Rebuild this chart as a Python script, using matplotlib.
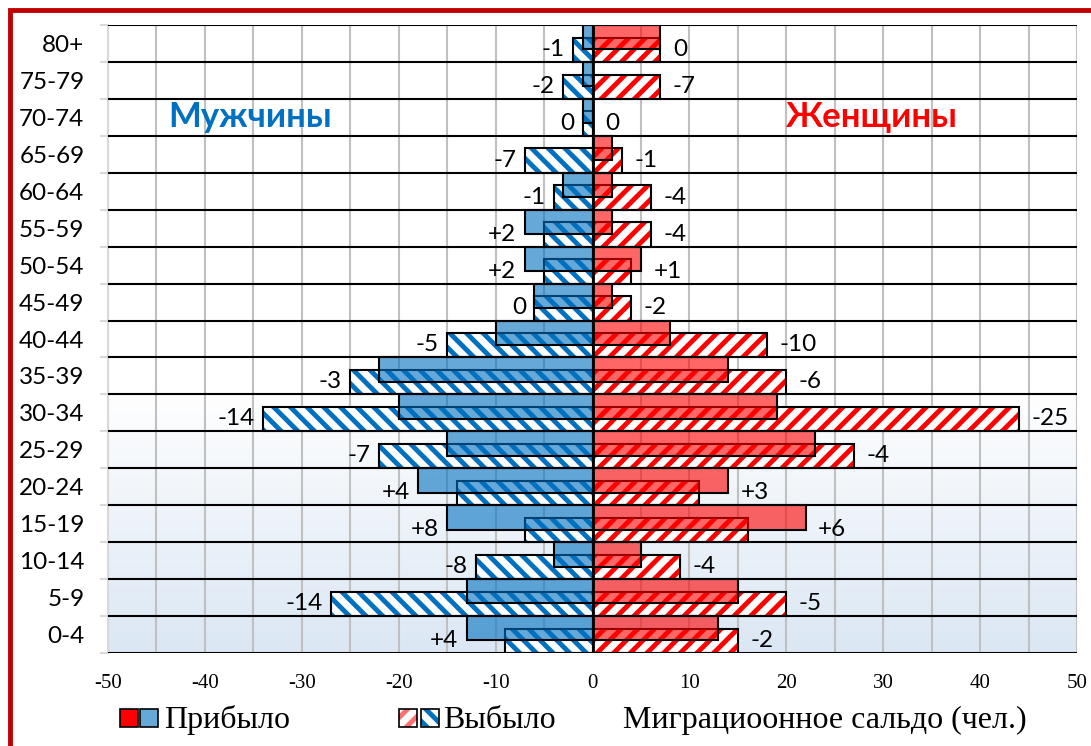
import numpy as np
import matplotlib
matplotlib.use("Agg")
import matplotlib.pyplot as plt
from matplotlib.patches import Rectangle

plt.rcParams['hatch.linewidth'] = 3.5
plt.rcParams['axes.unicode_minus'] = False

# data: age groups bottom -> top
ages = ['0-4', '5-9', '10-14', '15-19', '20-24', '25-29', '30-34', '35-39', '40-44',
        '45-49', '50-54', '55-59', '60-64', '65-69', '70-74', '75-79', '80+']
m_in = [13, 13, 4, 15, 18, 15, 20, 22, 10, 6, 7, 7, 3, 0, 1, 1, 1]
m_out = [9, 27, 12, 7, 14, 22, 34, 25, 15, 6, 5, 5, 4, 7, 1, 3, 2]
f_in = [13, 15, 5, 22, 14, 23, 19, 14, 8, 2, 5, 2, 2, 2, 0, 0, 7]
f_out = [15, 20, 9, 16, 11, 27, 44, 20, 18, 4, 4, 6, 6, 3, 0, 7, 7]

m_in = np.array(m_in)
m_out = np.array(m_out)
f_in = np.array(f_in)
f_out = np.array(f_out)

BLUE = '#0070c0'
RED = '#ff0000'
W, H = 1091, 746


def fx(px):
    return px / W


def fy(py):
    return 1 - py / H


fig = plt.figure(figsize=(W / 100, H / 100), dpi=100)
ax = fig.add_axes([fx(108), fy(653), fx(1077) - fx(108), fy(25) - fy(653)])

y = np.arange(len(ages))
h = 0.66
off = 0.17

# background gradient in the lower part
grad = np.linspace(0, 1, 256).reshape(-1, 1)
cmap = matplotlib.colors.LinearSegmentedColormap.from_list('bg', ['#dbe7f4', '#ffffff'])
ax.imshow(grad, extent=[0, 1, 0, 0.42], transform=ax.transAxes, aspect='auto',
          cmap=cmap, origin='lower', zorder=0)

# departed (hatched)
ax.barh(y - off, -m_out, height=h, color='white', edgecolor=BLUE, hatch='\\\\', linewidth=0, zorder=2)
ax.barh(y - off, -m_out, height=h, fill=False, edgecolor='black', linewidth=1.5, zorder=3)
ax.barh(y - off, f_out, height=h, color='white', edgecolor=RED, hatch='//', linewidth=0, zorder=2)
ax.barh(y - off, f_out, height=h, fill=False, edgecolor='black', linewidth=1.5, zorder=3)

# arrived (solid, semi-transparent)
ax.barh(y + off, -m_in, height=h, facecolor=(0, 0.44, 0.75, 0.6), edgecolor='black', linewidth=1.5, zorder=3)
ax.barh(y + off, f_in, height=h, facecolor=(1, 0, 0, 0.6), edgecolor='black', linewidth=1.5, zorder=3)


def fmt(n):
    return '0' if n == 0 else f'{n:+d}'


lab_font = dict(family='Lato', fontsize=17.5, color='black', zorder=6)
for i in range(len(ages)):
    mn = m_in[i] - m_out[i]
    fn = f_in[i] - f_out[i]
    ax.annotate(fmt(mn), (-max(m_in[i], m_out[i]), i - 0.16), xytext=(-6, 0),
                textcoords='offset points', ha='right', va='center', **lab_font)
    ax.annotate(fmt(fn), (max(f_in[i], f_out[i]), i - 0.16), xytext=(9, 0),
                textcoords='offset points', ha='left', va='center', **lab_font)

# separators and zero line
for b in np.arange(-0.5, len(ages)):
    ax.axhline(b, color='black', lw=1.5, zorder=4)
ax.axvline(0, color='black', lw=2, zorder=5)

ax.set_xlim(-50, 50)
ax.set_ylim(-0.5, len(ages) - 0.5)
ax.set_xticks(range(-50, 51, 10))
ax.set_xticks(range(-45, 50, 10), minor=True)
ax.set_axisbelow(True)
ax.grid(axis='x', which='both', color='#c0c0c0', lw=1.5)
ax.set_yticks(y)
ax.set_yticklabels(ages, family='Lato', fontsize=17.5)
ax.set_yticks(np.arange(-0.5, len(ages)), minor=True)
ax.tick_params(axis='y', which='major', length=0, pad=17)
ax.tick_params(axis='y', which='minor', length=6, width=1.5, color='#d9d9d9')
ax.tick_params(axis='x', which='both', length=0, pad=15)
for t in ax.get_xticklabels():
    t.set_family('Liberation Serif')
    t.set_fontsize(15)
for s in ['top', 'right', 'bottom']:
    ax.spines[s].set_visible(False)
ax.spines['left'].set_color('#d9d9d9')
ax.spines['left'].set_linewidth(1.5)

ax.text(-35.3, 14, 'Мужчины', color=BLUE, fontsize=25, fontweight='bold', family='Lato',
        ha='center', va='center', zorder=6)
ax.text(28.8, 14, 'Женщины', color=RED, fontsize=25, fontweight='bold', family='Lato',
        ha='center', va='center', zorder=6)

# legend
sq = 18
fig.patches.append(Rectangle((fx(120), fy(727)), fx(sq), sq / H, transform=fig.transFigure,
                             facecolor=RED, edgecolor='black', lw=1.2))
fig.patches.append(Rectangle((fx(140), fy(727)), fx(sq), sq / H, transform=fig.transFigure,
                             facecolor='#66a9d9', edgecolor='black', lw=1.2))
fig.patches.append(Rectangle((fx(399), fy(727)), fx(sq), sq / H, transform=fig.transFigure,
                             facecolor='white', edgecolor='#ff7070', hatch='//', lw=0))
fig.patches.append(Rectangle((fx(399), fy(727)), fx(sq), sq / H, transform=fig.transFigure,
                             fill=False, edgecolor='black', lw=1.2))
fig.patches.append(Rectangle((fx(421), fy(727)), fx(sq), sq / H, transform=fig.transFigure,
                             facecolor='white', edgecolor=BLUE, hatch='\\\\', lw=0))
fig.patches.append(Rectangle((fx(421), fy(727)), fx(sq), sq / H, transform=fig.transFigure,
                             fill=False, edgecolor='black', lw=1.2))
leg_font = dict(family='Liberation Serif', fontsize=23, va='center', ha='left')
fig.text(fx(164), fy(720), 'Прибыло', **leg_font)
fig.text(fx(443), fy(720), 'Выбыло', **leg_font)
fig.text(fx(623), fy(720), 'Миграциоонное сальдо (чел.)', **leg_font)

# red frame
fig.patches.append(Rectangle((fx(10), -0.1), 1.2, fy(10) + 0.1, transform=fig.transFigure,
                             fill=False, edgecolor='#c00000', lw=3.5))

fig.savefig('out.png', dpi=100)
